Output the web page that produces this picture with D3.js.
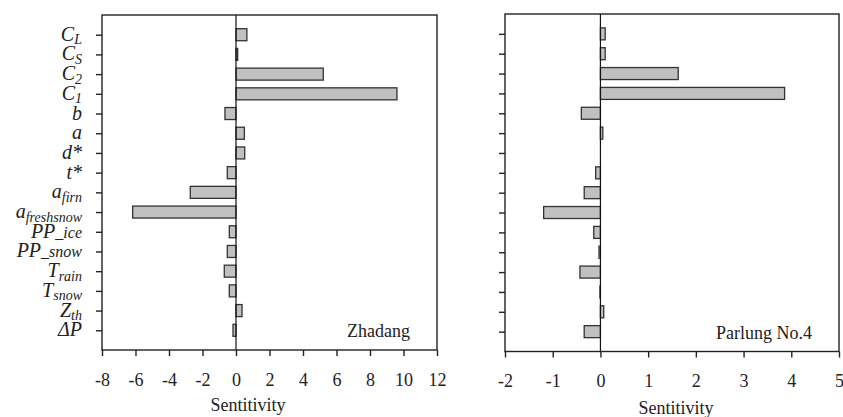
<!DOCTYPE html>
<html>
<head>
<meta charset="utf-8">
<script src="https://cdn.jsdelivr.net/npm/d3@7"></script>
<style>
  body { margin: 0; background: #fff; }
  svg { display: block; }
  .axis path, .axis line { stroke: #222; stroke-width: 1.4px; }
  .axis text { font-family: "Liberation Serif", "Times New Roman", serif; font-size: 18px; fill: #222; }
  .bar { fill: #c0c0c0; stroke: #333; stroke-width: 1.3px; }
  .frame { fill: none; stroke: #222; stroke-width: 1.4px; }
  .lbl { font-family: "Liberation Serif", "Times New Roman", serif; font-style: italic; fill: #222; }
  .txt { font-family: "Liberation Serif", "Times New Roman", serif; font-size: 18px; fill: #222; }
</style>
</head>
<body>
<svg id="chart" width="843" height="417"></svg>
<script>
// parameters, top to bottom: [main symbol, subscript, subscript style]
var params = [
  ["C", "L", "sub"], ["C", "S", "sub"], ["C", "2", "sub"], ["C", "1", "sub"],
  ["b", "", ""], ["a", "", ""], ["d*", "", ""], ["t*", "", ""],
  ["a", "firn", "sub"], ["a", "freshsnow", "sub"],
  ["PP", "_ice", "small"], ["PP", "_snow", "small"],
  ["T", "rain", "sub"], ["T", "snow", "sub"], ["Z", "th", "sub"], ["\u0394P", "", ""]
];

// sensitivity values
var zhadang = [0.65, 0.1, 5.21, 9.61, -0.66, 0.5, 0.52, -0.52, -2.73, -6.17, -0.4, -0.52, -0.7, -0.4, 0.36, -0.18];
var parlung = [0.1, 0.1, 1.63, 3.86, -0.4, 0.05, 0, -0.1, -0.34, -1.19, -0.14, -0.03, -0.43, -0.01, 0.07, -0.34];

var zhadangTicks = [-8, -6, -4, -2, 0, 2, 4, 6, 8, 10, 12];
var parlungTicks = [-2, -1, 0, 1, 2, 3, 4, 5];

var svg = d3.select("#chart");

function drawPanel(opt) {
  var x = d3.scaleLinear().domain(opt.domain).range([opt.left, opt.right]);
  var y = d3.scalePoint().domain(d3.range(params.length)).range([opt.top, opt.bottom]).padding(1);
  var g = svg.append("g");

  // bars
  g.selectAll(".bar")
    .data(opt.values)
    .enter()
    .append("rect")
    .attr("class", "bar")
    .attr("x", d => x(Math.min(0, d)))
    .attr("y", (d, i) => y(i) - 6)
    .attr("width", d => Math.abs(x(d) - x(0)))
    .attr("height", 12);

  // zero line
  g.append("line")
    .attr("x1", x(0)).attr("x2", x(0))
    .attr("y1", opt.top).attr("y2", opt.bottom)
    .attr("stroke", "#111").attr("stroke-width", 1.2);

  g.append("rect")
    .attr("class", "frame")
    .attr("x", opt.left).attr("y", opt.top)
    .attr("width", opt.right - opt.left).attr("height", opt.bottom - opt.top);

  g.append("g")
    .attr("class", "axis")
    .attr("transform", "translate(0," + opt.bottom + ")")
    .call(d3.axisBottom(x).tickValues(opt.ticks).tickFormat(d => String(d)).tickSize(6).tickSizeOuter(0).tickPadding(17));

  g.append("g")
    .attr("class", "axis")
    .attr("transform", "translate(" + opt.left + ",0)")
    .call(d3.axisLeft(y).tickSize(6).tickSizeOuter(0).tickFormat(""));

  g.selectAll(".axis .domain").remove();

  g.append("text")
    .attr("class", "txt")
    .attr("x", opt.titleX).attr("y", opt.titleY)
    .attr("text-anchor", "middle")
    .text("Sentitivity");

  g.append("text")
    .attr("class", "txt")
    .attr("x", opt.right - 27).attr("y", opt.bottom - 13)
    .attr("text-anchor", "end")
    .text(opt.name);

  if (opt.labels) {
    var lbl = g.selectAll(".lbl")
      .data(params)
      .enter()
      .append("text")
      .attr("class", "lbl")
      .attr("x", opt.left - 20)
      .attr("y", (d, i) => y(i) + 6)
      .attr("text-anchor", "end")
      .style("font-size", "20px");
    lbl.append("tspan").text(d => d[0]);
    lbl.filter(d => d[2] == "sub")
      .append("tspan")
      .attr("dy", 3.5)
      .style("font-size", "14px")
      .text(d => d[1]);
    lbl.filter(d => d[2] == "small")
      .append("tspan")
      .style("font-size", "16px")
      .text(d => d[1]);
  }
}

drawPanel({
  values: zhadang, domain: [-8, 12], ticks: zhadangTicks,
  left: 102, right: 437, top: 15, bottom: 350,
  labels: true, name: "Zhadang", titleX: 248, titleY: 411
});

drawPanel({
  values: parlung, domain: [-2, 5], ticks: parlungTicks,
  left: 505, right: 839, top: 14, bottom: 351.5,
  labels: false, name: "Parlung No.4", titleX: 676, titleY: 414
});
</script>
</body>
</html>
